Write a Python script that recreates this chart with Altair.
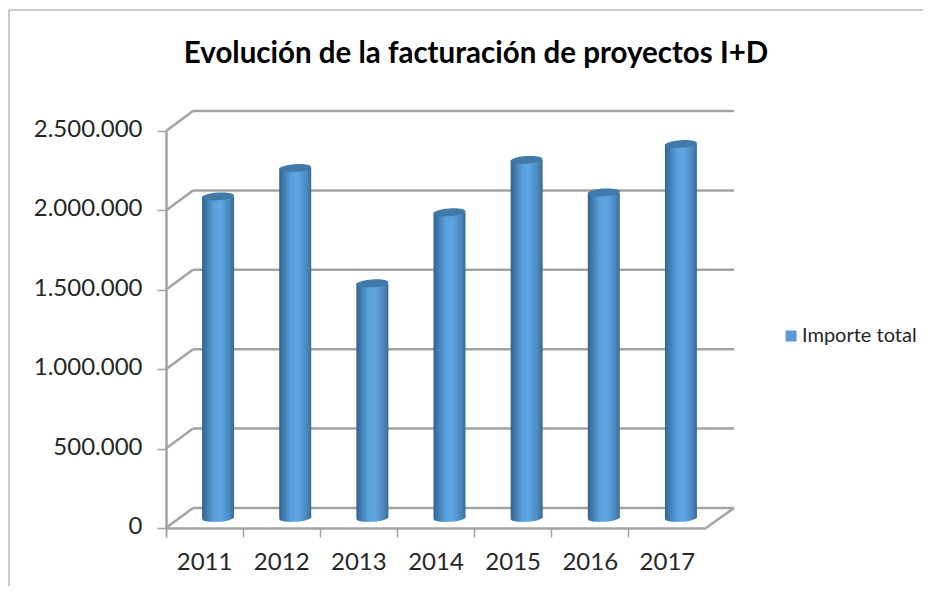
import altair as alt
import pandas as pd

years = ["2011", "2012", "2013", "2014", "2015", "2016", "2017"]
importe = [2025000, 2204000, 1478000, 1925000, 2255000, 2050000, 2355000]
ticks = [0, 500000, 1000000, 1500000, 2000000, 2500000]
series = ["Importe total"]
title_text = "Evolución de la facturación de proyectos I+D"

df = pd.DataFrame({"year": years, "v": importe, "s": series * len(years)})
tf = pd.DataFrame({"t": ticks})
base0 = pd.DataFrame({"year": years, "v": [0] * len(years)})
frame_df = pd.DataFrame({"a": [0]})

FONT = "Lato"
W, H = 540, 397
DX, DY = 27, -20
GRID = "#a3a3a3"
TXT = "#262626"

x_enc = alt.X("year:N", scale=alt.Scale(type="band", domain=years, paddingInner=0, paddingOuter=0),
              axis=alt.Axis(title=None, bandPosition=0, tickExtra=True, labelAngle=0, labelFont=FONT,
                            labelFontSize=24, labelColor=TXT, labelPadding=13, tickSize=9, tickColor=GRID,
                            tickWidth=1.5, domainColor=GRID, domainWidth=2.5, grid=False))
y_axis = alt.Axis(title=None, values=ticks, tickSize=9, tickColor=GRID, tickWidth=1.5,
                  domainColor=GRID, domainWidth=2.5, grid=False, labelFont=FONT, labelFontSize=24,
                  labelColor=TXT, labelPadding=15, labelOffset=-1.5,
                  labelExpr="replace(format(datum.value, ','), /,/g, '.')")
y_enc = alt.Y("v:Q", scale=alt.Scale(domain=[0, 2500000], nice=False), axis=y_axis)
y_t = alt.Y("t:Q", scale=alt.Scale(domain=[0, 2500000], nice=False), axis=y_axis)

back = alt.Chart(tf).mark_rule(color=GRID, strokeWidth=2.5, yOffset=DY).encode(
    x=alt.value(DX), x2=alt.value(W + DX + 1), y=y_t)
diag = alt.Chart(tf).mark_rule(color=GRID, strokeWidth=2.5, y2Offset=DY).encode(
    x=alt.value(0), x2=alt.value(DX), y=y_t, y2=alt.Y2("t:Q"))
floor_right = alt.Chart(tf[tf.t == 0]).mark_rule(color=GRID, strokeWidth=2.5, y2Offset=DY).encode(
    x=alt.value(W), x2=alt.value(W + DX + 1), y=y_t, y2=alt.Y2("t:Q"))

ELL = "M-1,0.07 A1,0.24,-4,1,1,1,-0.07 A1,0.24,-4,1,1,-1,0.07 Z"
body = alt.Gradient(gradient="linear", x1=0, x2=1, y1=0, y2=0, stops=[
    alt.GradientStop(offset=0, color="#33648c"),
    alt.GradientStop(offset=0.12, color="#3f78aa"),
    alt.GradientStop(offset=0.38, color="#5aa0dd"),
    alt.GradientStop(offset=0.58, color="#5da5e4"),
    alt.GradientStop(offset=0.85, color="#4b89be"),
    alt.GradientStop(offset=1, color="#3a6a92"),
])

bottom = alt.Chart(base0).mark_point(shape=ELL, size=1024, filled=True, color=body, opacity=1,
                                     xOffset=13.5, yOffset=-10).encode(x=x_enc, y=y_enc)
bars = alt.Chart(df).mark_bar(width=32, color=body, xOffset=13.5, yOffset=-10, y2Offset=-10).encode(x=x_enc, y=y_enc)
caps = alt.Chart(df).mark_point(shape=ELL, size=1024, filled=True, color="#417aa9", opacity=1,
                                xOffset=13.5, yOffset=-10).encode(x=x_enc, y=y_enc)

legend_layer = alt.Chart(df).mark_square(opacity=0).encode(
    x=x_enc, y=y_enc,
    color=alt.Color("s:N", scale=alt.Scale(domain=series, range=["#5b9bd5"]),
                    legend=alt.Legend(title=None, orient="none", legendX=615, legendY=195, symbolType="square",
                                      symbolSize=121, symbolOpacity=1, symbolStrokeWidth=0,
                                      labelFont=FONT, labelFontSize=20, labelColor=TXT, labelOffset=1)))

frame_top = alt.Chart(frame_df).mark_rule(color="#969696", strokeWidth=1).encode(
    x=alt.value(-157), x2=alt.value(765), y=alt.value(-121))
frame_left = alt.Chart(frame_df).mark_rule(color="#969696", strokeWidth=1).encode(
    x=alt.value(-157), y=alt.value(-121), y2=alt.value(470))

chart = alt.layer(frame_top, frame_left, back, diag, floor_right, bottom, bars, caps, legend_layer).properties(
    width=W, height=H,
    title=alt.TitleParams(title_text, font=FONT, fontSize=29.5, fontWeight="bold", color="#000000",
                          anchor="middle", dx=40, offset=0, dy=60),
    autosize=alt.AutoSizeParams(type="none"),
    padding={"left": 158, "top": 123, "right": 217, "bottom": 58},
    background="white",
).configure_view(stroke=None)

chart.save("out.html", embed_options={"renderer": "svg", "actions": False})
